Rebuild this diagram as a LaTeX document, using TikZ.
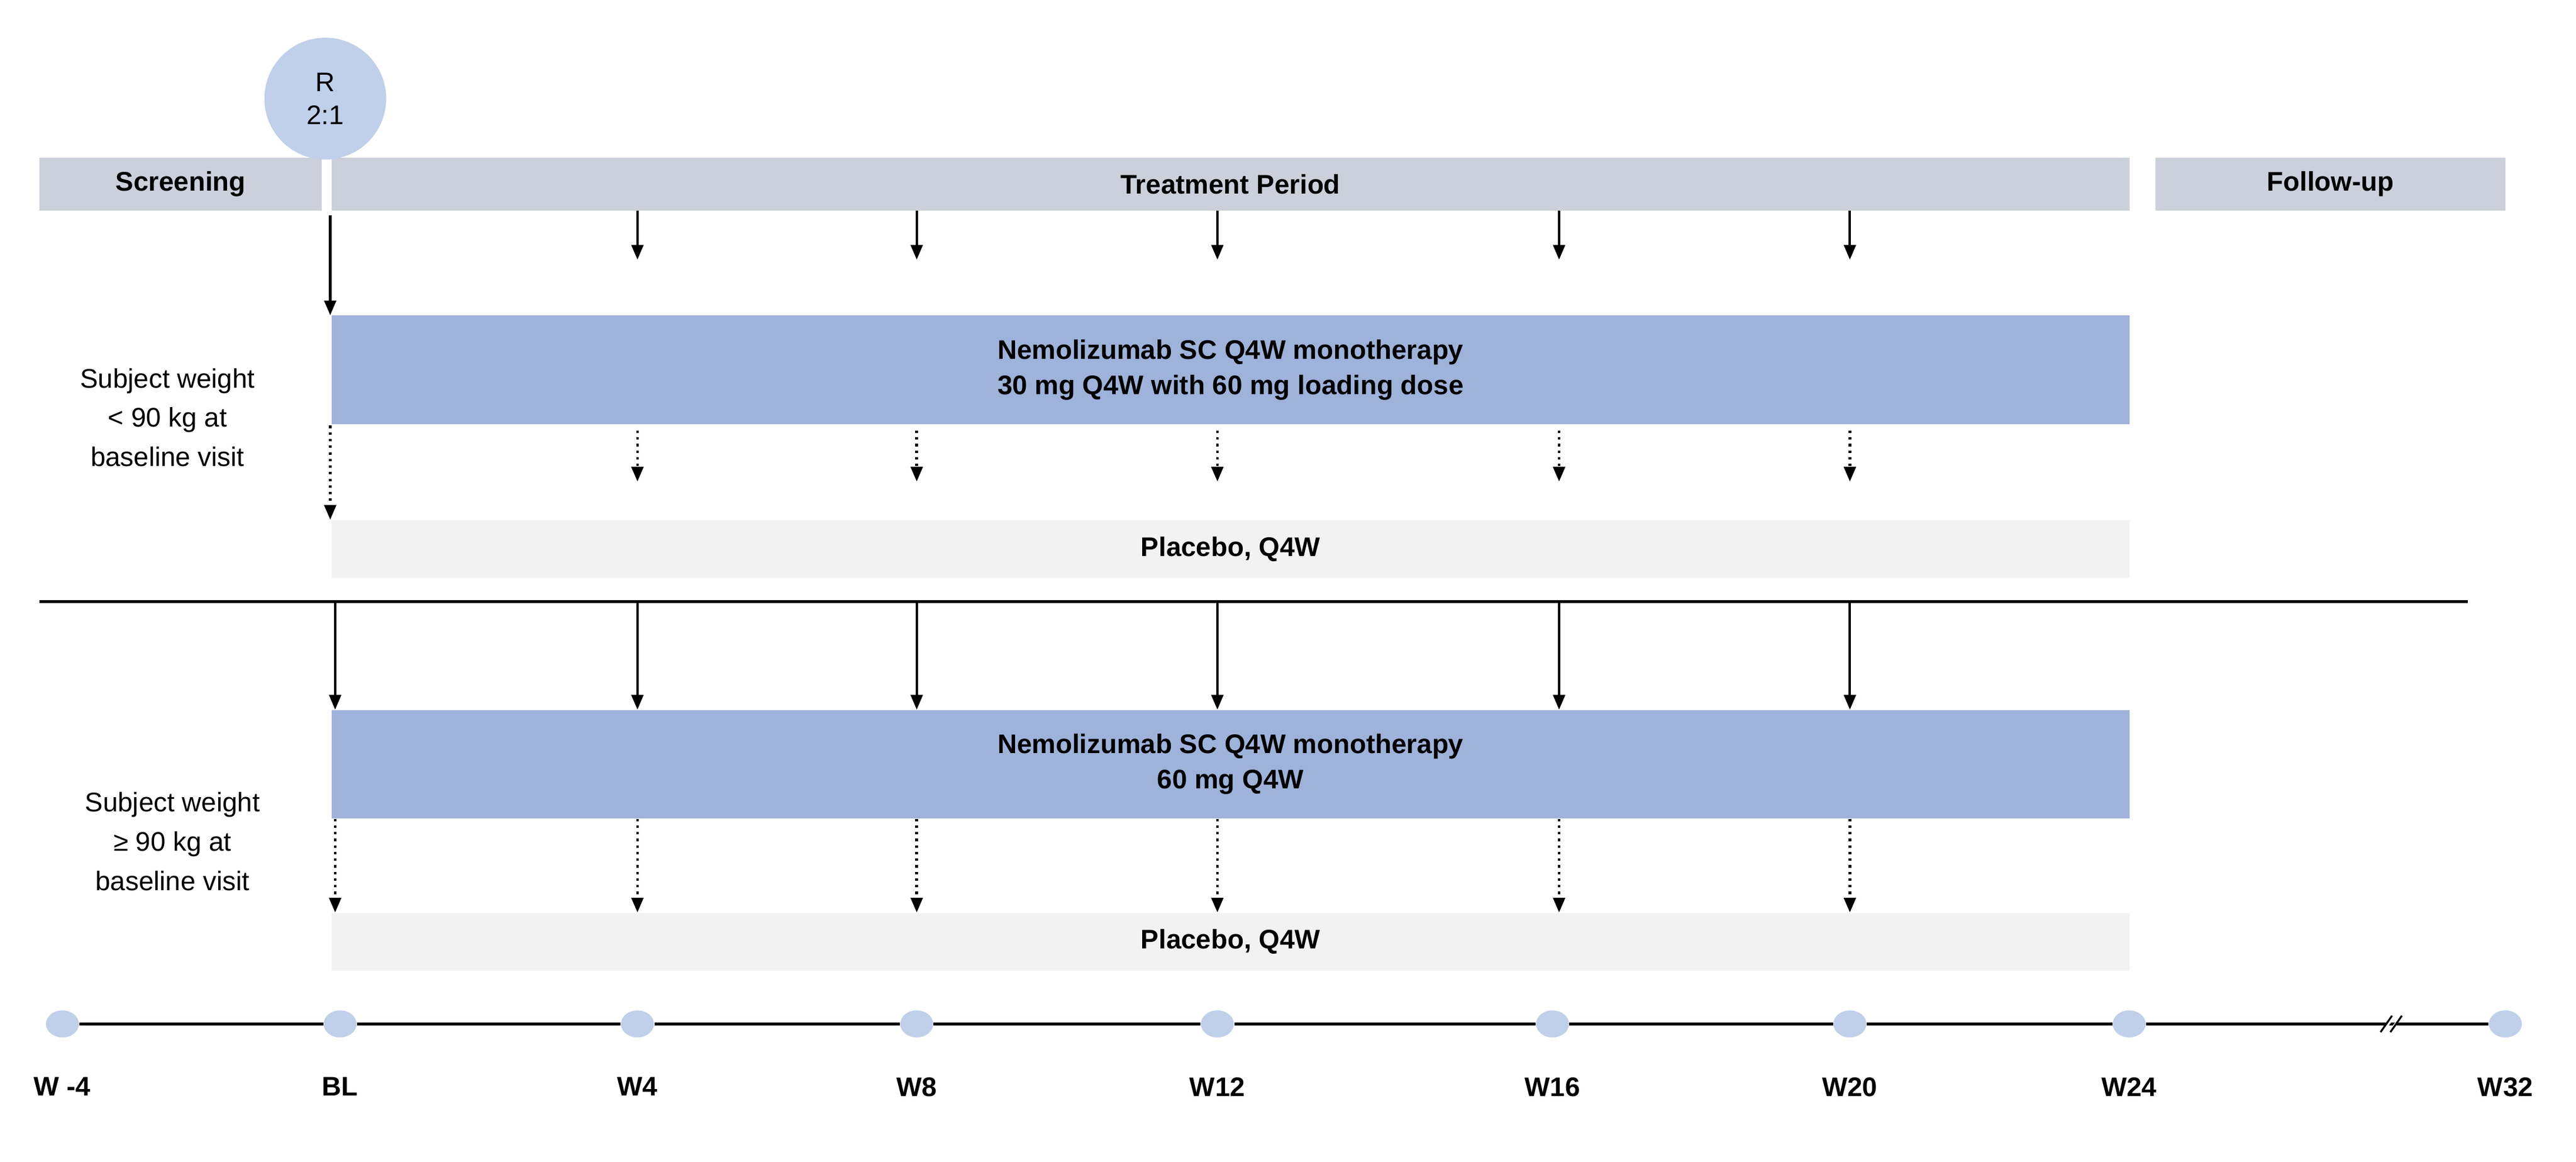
\documentclass[tikz,border=0pt]{standalone}
\usepackage{fontspec}
\setmainfont{Liberation Sans}
\usetikzlibrary{arrows.meta,positioning,shapes.geometric}
\definecolor{hdrgray}{HTML}{CBD0DB}
\definecolor{armblue}{HTML}{9FB2DA}
\definecolor{dotblue}{HTML}{C0CFEA}
\definecolor{plcgray}{HTML}{F2F2F2}
\tikzset{
  phase/.style={
      rectangle,
      inner sep=0pt,
      fill=hdrgray,
      minimum height=0.894cm,
      font=\bfseries\fontsize{13}{16}\selectfont
  },
  arm/.style={
      rectangle,
      inner sep=0pt,
      fill=armblue,
      align=center,
      minimum width=30.56cm,
      minimum height=1.84cm,
      font=\bfseries\fontsize{13}{17}\selectfont
  },
  placebo/.style={
      rectangle,
      inner sep=0pt,
      fill=plcgray,
      minimum width=30.56cm,
      minimum height=0.98cm,
      font=\bfseries\fontsize{13}{16}\selectfont
  },
  visit/.style={ellipse,fill=dotblue,minimum width=0.56cm,minimum height=0.46cm,inner sep=0pt},
  dose/.style={-{Triangle[length=2.5mm,width=2mm]},line width=1.2pt},
  sham/.style={dose,dotted,line width=1.3pt},
  weight/.style={align=center,font=\fontsize{13}{19}\selectfont}
}
\begin{document}
\begin{tikzpicture}[x=0.02793cm,y=-0.02793cm]
    \useasboundingbox (0,0) rectangle (1568,707);
    % phases
    \node[phase,minimum width=4.80cm] (screen) at (110,112) {Screening};
    \node[phase,minimum width=30.56cm] (treat) at (749,112) {Treatment Period};
    \node[phase,minimum width=5.95cm] (follow) at (1418.5,112) {Follow-up};
    \node[circle,fill=dotblue,minimum size=2.07cm,inner sep=0pt,align=center,
          font=\fontsize{13}{16}\selectfont] (rand) at (198,60) {R\\2:1};
    % arms
    \node[arm] (nemoA) at (749,225) {Nemolizumab SC Q4W monotherapy\\30 mg Q4W with 60 mg loading dose};
    \node[placebo] (plcA) at (749,334) {Placebo, Q4W};
    \node[arm] (nemoB) at (749,465) {Nemolizumab SC Q4W monotherapy\\60 mg Q4W};
    \node[placebo] (plcB) at (749,573) {Placebo, Q4W};
    \node[weight] (lowwt) at (102,254) {Subject weight\\< 90 kg at\\baseline visit};
    \node[weight] (highwt) at (105,512) {Subject weight\\≥ 90 kg at\\baseline visit};
    \coordinate (splitL) at (24,366);
    \coordinate (splitR) at (1502,366);
    \draw[line width=1.2pt] (splitL) -- (splitR);
    % doses, upper stratum
    \draw[dose] (201,131) -- (nemoA.north -| 201,0);
    \draw[sham] (201,259) -- (plcA.north -| 201,0);
    \foreach \x in {388,558,741,949,1126} {
      \draw[dose] (treat.south -| \x,0) -- (\x,158);
      \draw[sham] (\x,262) -- (\x,293);
    }
    % doses, lower stratum
    \foreach \x in {204,388,558,741,949,1126} {
      \draw[dose] (splitL -| \x,0) -- (nemoB.north -| \x,0);
      \draw[sham] (nemoB.south -| \x,0) -- (plcB.north -| \x,0);
    }
    % timeline
    \foreach \n/\x/\t in {m4/38/W -4,bl/207/BL,w4/388/W4,w8/558/W8,w12/741/W12,w16/945/W16,w20/1126/W20,w24/1296/W24,w32/1525/W32} {
      \node[visit] (v\n) at (\x,623) {};
      \node[font=\bfseries\fontsize{13}{16}\selectfont,below=0.55cm of v\n] (l\n) {\t};
    }
    \draw[line width=1.3pt] (vm4) -- (vbl) -- (vw4) -- (vw8) -- (vw12) -- (vw16) -- (vw20) -- (vw24) -- (vw32);
    \draw[line width=1pt,white] (1451,627) -- (1457,619) (1455,627) -- (1461,619);
    \draw[line width=0.9pt] (1449,628) -- (1456,618) (1455,628) -- (1462,618);
\end{tikzpicture}
\end{document}
